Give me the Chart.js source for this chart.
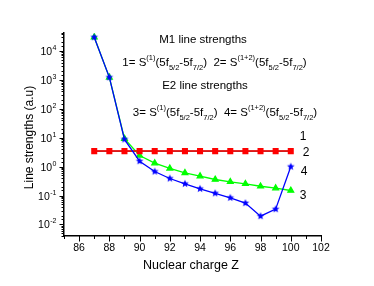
<!DOCTYPE html>
<html>
<head>
<meta charset="utf-8">
<script src="https://cdn.jsdelivr.net/npm/chart.js@4.4.0/dist/chart.umd.min.js"></script>
<style>
	html, body { margin: 0; padding: 0; background: #fff; }
	#wrap { position: relative; width: 374px; height: 286px; }
</style>
</head>
<body>
<div id="wrap"><canvas id="chart" width="374" height="286"></canvas></div>
<script>
	// Nuclear charge Z
	const charges = [87, 88, 89, 90, 91, 92, 93, 94, 95, 96, 97, 98, 99, 100];
	// 1 = S(1) M1, 2 = S(1+2) M1 (same values, 2 drawn on top)
	const m1Single = [3.45, 3.45, 3.45, 3.45, 3.45, 3.45, 3.45, 3.45, 3.45, 3.45, 3.45, 3.45, 3.45, 3.45];
	const m1Combined = [3.45, 3.45, 3.45, 3.45, 3.45, 3.45, 3.45, 3.45, 3.45, 3.45, 3.45, 3.45, 3.45, 3.45];
	// 3 = S(1) E2, 4 = S(1+2) E2
	const e2Single = [30000, 1230, 8.8, 1.55, 0.68, 0.39, 0.256, 0.172, 0.12, 0.084, 0.055, 0.0194, 0.034, 1.0];
	const e2Combined = [30000, 1230, 9.3, 2.44, 1.32, 0.87, 0.61, 0.47, 0.36, 0.30, 0.256, 0.21, 0.18, 0.15];
	// axis ticks
	const xLabelTicks = [86, 88, 90, 92, 94, 96, 98, 100, 102];
	const yDecades = [-2, -1, 0, 1, 2, 3, 4];
	const seriesLabels = ['1', '2', '3', '4'];

	const FONT = '"Liberation Sans", Arial, sans-serif';

	function toPoints(values) {
		return charges.map((z, i) => ({ x: z, y: values[i] }));
	}

	// filled star marker
	function makeStar(color, outer, inner) {
		const size = Math.ceil(outer * 2) + 2;
		const c = document.createElement('canvas');
		c.width = size;
		c.height = size;
		const g = c.getContext('2d');
		g.fillStyle = color;
		g.beginPath();
		for (let i = 0; i < 10; i++) {
			const r = i % 2 === 0 ? outer : inner;
			const a = -Math.PI / 2 + i * Math.PI / 5;
			const px = size / 2 + r * Math.cos(a);
			const py = size / 2 + r * Math.sin(a);
			if (i === 0) g.moveTo(px, py); else g.lineTo(px, py);
		}
		g.closePath();
		g.fill();
		return c;
	}

	/**
	 * Draw a line of text with super/subscripts, centred on cx
	 */
	function drawRich(ctx, parts, cx, baseline, big, small) {
		let width = 0;
		parts.forEach(p => {
			ctx.font = (p[1] === 0 ? big : small) + 'px ' + FONT;
			width += ctx.measureText(p[0]).width;
		});
		let x = cx - width / 2;
		ctx.textAlign = 'left';
		ctx.textBaseline = 'alphabetic';
		parts.forEach(p => {
			ctx.font = (p[1] === 0 ? big : small) + 'px ' + FONT;
			let y = baseline;
			if (p[1] === 1) y = baseline - 6;
			if (p[1] === -1) y = baseline + 3.5;
			ctx.fillText(p[0], x, y);
			x += ctx.measureText(p[0]).width;
		});
	}

	function transitionParts(a, b) {
		return [
			[a + '= S', 0], ['(1)', 1], ['(5f', 0], ['5/2', -1], ['-5f', 0], ['7/2', -1],
			[')  ' + b + '= S', 0], ['(1+2)', 1], ['(5f', 0], ['5/2', -1], ['-5f', 0], ['7/2', -1], [')', 0]
		];
	}

	const decorPlugin = {
		id: 'decor',
		afterDraw(chart) {
			const ctx = chart.ctx;
			const xs = chart.scales.x;
			const ys = chart.scales.y;
			ctx.save();
			ctx.strokeStyle = '#000';
			ctx.lineWidth = 1;

			// x ticks (major labelled, minor between)
			xs.ticks.forEach(t => {
				const px = Math.round(xs.getPixelForValue(t.value)) + 0.5;
				const len = t.value % 2 === 0 ? 5.5 : 3;
				ctx.beginPath();
				ctx.moveTo(px, xs.top);
				ctx.lineTo(px, xs.top + len);
				ctx.stroke();
			});

			// y ticks
			ys.ticks.forEach(t => {
				const lg = Math.log10(t.value);
				const major = Math.abs(lg - Math.round(lg)) < 1e-6;
				const py = Math.round(ys.getPixelForValue(t.value)) + 0.5;
				const len = major ? 4.5 : 2.5;
				ctx.beginPath();
				ctx.moveTo(ys.right, py);
				ctx.lineTo(ys.right - len, py);
				ctx.stroke();
			});

			// y tick labels 10^n
			ctx.fillStyle = '#000';
			ctx.textBaseline = 'alphabetic';
			yDecades.forEach(d => {
				const py = ys.getPixelForValue(Math.pow(10, d));
				const right = ys.right - 7.5;
				ctx.font = '7px ' + FONT;
				ctx.textAlign = 'right';
				const exp = String(d);
				ctx.fillText(exp, right, py - 1);
				const ew = ctx.measureText(exp).width;
				ctx.font = '10.5px ' + FONT;
				ctx.fillText('10', right - ew - 0.5, py + 4);
			});

			// axis titles
			ctx.font = '12.5px ' + FONT;
			ctx.textAlign = 'center';
			ctx.fillText('Nuclear charge Z', 191, 269);
			ctx.save();
			ctx.translate(32.5, 137.5);
			ctx.rotate(-Math.PI / 2);
			ctx.font = '12px ' + FONT;
			ctx.fillText('Line strengths (a.u)', 0, 0);
			ctx.restore();

			// in-plot annotation
			ctx.font = '11.5px ' + FONT;
			ctx.textAlign = 'center';
			ctx.fillText('M1 line strengths', 203, 42.5);
			drawRich(ctx, transitionParts('1', '2'), 214.5, 66, 11.5, 7.5);
			ctx.font = '11.5px ' + FONT;
			ctx.textAlign = 'center';
			ctx.fillText('E2 line strengths', 205, 88.7);
			drawRich(ctx, transitionParts('3', '4'), 225, 116, 11.5, 7.5);

			// series labels at the right end
			ctx.font = '12px ' + FONT;
			ctx.textAlign = 'center';
			ctx.textBaseline = 'middle';
			const labelPos = [[303, 137], [306, 153], [303, 196], [304, 172]];
			seriesLabels.forEach((s, i) => {
				ctx.fillText(s, labelPos[i][0], labelPos[i][1]);
			});
			ctx.restore();
		}
	};

	new Chart(document.getElementById('chart'), {
		type: 'line',
		data: {
			datasets: [
				{
					label: '3',
					data: toPoints(e2Single),
					borderColor: '#0000ff',
					backgroundColor: '#0000ff',
					borderWidth: 1.3,
					pointStyle: makeStar('#0000ff', 4, 1.8),
					order: 0
				},
				{
					label: '2',
					data: toPoints(m1Combined),
					borderColor: '#ff0000',
					backgroundColor: '#ff0000',
					borderWidth: 1.5,
					pointStyle: 'rect',
					pointRadius: 3.2,
					order: 1
				},
				{
					label: '4',
					data: toPoints(e2Combined),
					borderColor: '#00ff00',
					backgroundColor: '#00ff00',
					borderWidth: 1.3,
					pointStyle: 'triangle',
					pointRadius: 3.3,
					order: 2
				},
				{
					label: '1',
					data: toPoints(m1Single),
					borderColor: '#000000',
					backgroundColor: '#000000',
					borderWidth: 1,
					pointStyle: 'rect',
					pointRadius: 2.5,
					order: 3
				}
			]
		},
		options: {
			responsive: false,
			animation: false,
			devicePixelRatio: 1,
			layout: { padding: { top: 33, right: 53, left: 0, bottom: 0 } },
			elements: {
				line: { tension: 0, fill: false },
				point: { borderWidth: 0, hoverRadius: 4 }
			},
			plugins: {
				legend: { display: false },
				tooltip: { enabled: false }
			},
			scales: {
				x: {
					type: 'linear',
					min: 85,
					max: 102,
					afterFit: s => { s.height = 50; },
					border: { display: true, color: '#000', width: 1.5 },
					grid: { display: true, drawOnChartArea: false, drawTicks: true, tickLength: 5, tickColor: 'rgba(0,0,0,0)' },
					ticks: {
						stepSize: 1,
						autoSkip: false,
						maxRotation: 0,
						padding: 1,
						color: '#000',
						font: { family: FONT, size: 10.5 },
						callback: v => xLabelTicks.includes(v) ? String(v) : ''
					}
				},
				y: {
					type: 'logarithmic',
					min: 0.004,
					max: 42000,
					afterFit: s => { s.width = 64; },
					border: { display: true, color: '#000', width: 1.5 },
					grid: { display: true, drawOnChartArea: false, drawTicks: false, tickColor: 'rgba(0,0,0,0)' },
					ticks: { display: false, autoSkip: false }
				}
			}
		},
		plugins: [decorPlugin]
	});
</script>
</body>
</html>
